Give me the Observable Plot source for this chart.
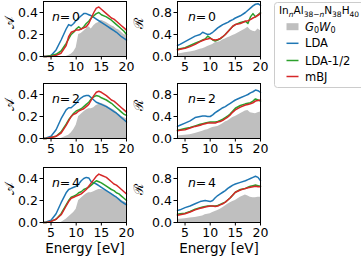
<!DOCTYPE html>
<html><head><meta charset="utf-8">
<script src="https://cdn.jsdelivr.net/npm/d3@7"></script>
<script src="https://cdn.jsdelivr.net/npm/@observablehq/plot@0.6"></script>
<style>
html,body{margin:0;padding:0;background:#fff;}
#chart{position:relative;width:361px;height:258px;overflow:hidden;font-family:"DejaVu Sans",sans-serif;}
#chart svg{position:absolute;overflow:visible;}
</style></head><body><div id="chart"></div>
<script>
// Energy grid [eV]
const energy = [3.5,4,5,6,7,8,8.5,9,9.5,10,10.5,11,11.5,12,12.5,13,13.5,14,14.5,15,16,17,17.5,18,18.5,19,19.5,20];
const xTicks = [5,10,15,20];
const yTicksA = [0,0.2,0.4];
const yTicksR = [0,0.4,0.8];
const seriesNames = ["G0W0","LDA","LDA-1/2","mBJ"];

// Absorbance A, n = 0, 2, 4
const A0_G0W0 = [0,0,0,0,0,0,0.01,0.02,0.04,0.08,0.2,0.21,0.23,0.25,0.27,0.25,0.28,0.3,0.31,0.33,0.31,0.28,0.27,0.25,0.24,0.22,0.2,0.19];
const A0_LDA  = [0,0,0.01,0.06,0.15,0.25,0.29,0.28,0.3,0.33,0.35,0.37,0.39,0.39,0.38,0.37,0.355,0.34,0.325,0.31,0.28,0.25,0.235,0.22,0.2,0.18,0.165,0.15];
const A0_LDAh = [0,0,0.01,0.02,0.05,0.12,0.16,0.2,0.22,0.25,0.27,0.25,0.27,0.3,0.32,0.35,0.37,0.39,0.4,0.38,0.36,0.33,0.31,0.29,0.27,0.25,0.23,0.2];
const A0_mBJ  = [0,0,0,0.01,0.03,0.1,0.18,0.22,0.23,0.24,0.24,0.25,0.26,0.27,0.3,0.35,0.4,0.44,0.45,0.43,0.39,0.35,0.34,0.32,0.3,0.28,0.26,0.24];

const A2_G0W0 = [0,0,0,0,0,0.02,0.03,0.05,0.08,0.12,0.2,0.22,0.24,0.26,0.27,0.27,0.28,0.3,0.31,0.32,0.3,0.27,0.26,0.24,0.22,0.2,0.19,0.18];
const A2_LDA  = [0,0.005,0.02,0.08,0.18,0.26,0.28,0.28,0.3,0.32,0.35,0.37,0.385,0.39,0.39,0.37,0.35,0.33,0.32,0.31,0.29,0.26,0.245,0.23,0.21,0.19,0.17,0.15];
const A2_LDAh = [0,0,0.01,0.02,0.06,0.13,0.17,0.2,0.23,0.25,0.26,0.27,0.29,0.31,0.33,0.36,0.38,0.39,0.385,0.37,0.35,0.32,0.3,0.28,0.26,0.24,0.22,0.21];
const A2_mBJ  = [0,0,0.01,0.02,0.05,0.12,0.16,0.2,0.22,0.23,0.25,0.26,0.27,0.29,0.31,0.35,0.39,0.42,0.43,0.42,0.39,0.35,0.34,0.32,0.3,0.28,0.26,0.24];

const A4_G0W0 = [0,0,0,0,0,0.03,0.05,0.07,0.09,0.12,0.2,0.22,0.24,0.26,0.27,0.27,0.28,0.29,0.3,0.3,0.29,0.26,0.25,0.23,0.22,0.2,0.19,0.18];
const A4_LDA  = [0,0.005,0.02,0.08,0.18,0.27,0.3,0.31,0.32,0.33,0.35,0.38,0.4,0.41,0.405,0.37,0.36,0.35,0.335,0.32,0.29,0.26,0.245,0.23,0.21,0.19,0.175,0.16];
const A4_LDAh = [0,0,0.01,0.03,0.08,0.16,0.2,0.23,0.24,0.25,0.27,0.28,0.3,0.31,0.32,0.34,0.36,0.38,0.37,0.36,0.33,0.3,0.29,0.27,0.26,0.24,0.22,0.2];
const A4_mBJ  = [0,0,0.01,0.03,0.07,0.15,0.19,0.22,0.23,0.24,0.25,0.26,0.28,0.3,0.33,0.36,0.39,0.42,0.44,0.43,0.41,0.37,0.35,0.34,0.32,0.3,0.28,0.26];

// Reflectance R, n = 0, 2, 4
const R0_G0W0 = [0.05,0.05,0.07,0.08,0.1,0.13,0.14,0.16,0.18,0.2,0.22,0.25,0.26,0.27,0.3,0.32,0.34,0.36,0.38,0.4,0.45,0.5,0.53,0.48,0.46,0.45,0.5,0.47];
const R0_LDA  = [0.2,0.22,0.27,0.32,0.37,0.4,0.44,0.42,0.4,0.41,0.44,0.48,0.52,0.55,0.58,0.6,0.62,0.65,0.67,0.7,0.74,0.8,0.84,0.88,0.92,0.95,0.96,0.93];
const R0_LDAh = [0.13,0.14,0.16,0.2,0.24,0.28,0.3,0.32,0.37,0.34,0.3,0.28,0.3,0.32,0.36,0.4,0.45,0.5,0.55,0.58,0.62,0.64,0.6,0.72,0.78,0.72,0.76,0.8];
const R0_mBJ  = [0.12,0.13,0.15,0.18,0.22,0.27,0.29,0.31,0.32,0.33,0.31,0.3,0.31,0.33,0.36,0.4,0.45,0.5,0.55,0.58,0.6,0.64,0.65,0.67,0.7,0.72,0.75,0.78];

const R2_G0W0 = [0.05,0.05,0.06,0.07,0.09,0.12,0.13,0.15,0.16,0.18,0.2,0.21,0.22,0.24,0.27,0.3,0.32,0.35,0.38,0.4,0.45,0.5,0.51,0.47,0.46,0.45,0.47,0.48];
const R2_LDA  = [0.22,0.24,0.28,0.32,0.38,0.4,0.41,0.41,0.4,0.4,0.43,0.47,0.5,0.53,0.56,0.58,0.61,0.64,0.67,0.7,0.74,0.78,0.8,0.83,0.85,0.88,0.87,0.84];
const R2_LDAh = [0.15,0.16,0.18,0.2,0.23,0.26,0.27,0.28,0.29,0.3,0.3,0.3,0.31,0.33,0.35,0.38,0.41,0.45,0.5,0.55,0.6,0.63,0.64,0.65,0.68,0.72,0.7,0.68];
const R2_mBJ  = [0.14,0.15,0.16,0.19,0.22,0.24,0.26,0.27,0.28,0.28,0.28,0.28,0.3,0.31,0.33,0.36,0.39,0.43,0.48,0.52,0.57,0.61,0.62,0.63,0.65,0.68,0.69,0.7];

const R4_G0W0 = [0.06,0.06,0.07,0.08,0.09,0.11,0.12,0.14,0.15,0.16,0.18,0.2,0.22,0.24,0.27,0.3,0.33,0.36,0.38,0.4,0.46,0.5,0.48,0.46,0.45,0.45,0.46,0.46];
const R4_LDA  = [0.22,0.23,0.27,0.3,0.34,0.38,0.39,0.4,0.39,0.38,0.4,0.45,0.49,0.52,0.55,0.58,0.62,0.65,0.68,0.7,0.73,0.76,0.78,0.8,0.82,0.84,0.82,0.76];
const R4_LDAh = [0.15,0.16,0.17,0.2,0.24,0.27,0.28,0.29,0.3,0.3,0.3,0.3,0.31,0.33,0.35,0.37,0.41,0.45,0.5,0.55,0.6,0.62,0.64,0.66,0.67,0.68,0.67,0.66];
const R4_mBJ  = [0.13,0.14,0.16,0.19,0.23,0.26,0.27,0.28,0.29,0.3,0.3,0.29,0.3,0.32,0.34,0.37,0.41,0.45,0.5,0.55,0.59,0.62,0.63,0.64,0.65,0.66,0.65,0.65];

const panels = [
  {col:0,row:0,n:0,s:[A0_G0W0,A0_LDA,A0_LDAh,A0_mBJ]},
  {col:0,row:1,n:2,s:[A2_G0W0,A2_LDA,A2_LDAh,A2_mBJ]},
  {col:0,row:2,n:4,s:[A4_G0W0,A4_LDA,A4_LDAh,A4_mBJ]},
  {col:1,row:0,n:0,s:[R0_G0W0,R0_LDA,R0_LDAh,R0_mBJ]},
  {col:1,row:1,n:2,s:[R2_G0W0,R2_LDA,R2_LDAh,R2_mBJ]},
  {col:1,row:2,n:4,s:[R4_G0W0,R4_LDA,R4_LDAh,R4_mBJ]},
];

const colors = {"G0W0":"#bfbfbf","LDA":"#1f77b4","LDA-1/2":"#2ca02c","mBJ":"#d62728"};
const chart = document.getElementById("chart");

const frameTops = [1,83,167];
const frameH = 55;

for (const p of panels) {
  const left = p.col === 0;
  const mt = 6, mb = p.row === 2 ? 40 : 24;
  const ml = left ? 43 : 47, mr = 3;
  const svgLeft = left ? 0 : 130;
  const width = left ? 129 : 133;
  const rows = energy.map((e,i)=>{
    const r = {e};
    seriesNames.forEach((k,j)=>r[k]=p.s[j][i]);
    return r;
  });
  const marks = [
    Plot.areaY(rows,{x:"e",y:"G0W0",fill:colors["G0W0"]}),
    ...["LDA","LDA-1/2","mBJ"].map(k=>Plot.line(rows,{x:"e",y:k,stroke:colors[k],strokeWidth:1.5})),
    Plot.frame({stroke:"#000",strokeWidth:1}),
    Plot.axisX({ticks:xTicks,tickSize:3.5,tickPadding:2,label:null,fontSize:12.5,tickFormat:d=>String(d)}),
    Plot.axisY({ticks:left?yTicksA:yTicksR,tickSize:3.5,tickPadding:2,label:null,fontSize:12.5,tickFormat:d=>d.toFixed(1)}),
    Plot.text(["n"],{text:d=>d,frameAnchor:"top-left",dx:left?8.5:10.5,dy:11,fontStyle:"italic",fontSize:12.5,textAnchor:"start"}),
    Plot.text(["="],{text:d=>d,frameAnchor:"top-left",dx:left?21.5:23.5,dy:11,fontSize:12.5,textAnchor:"middle"}),
    Plot.text([String(p.n)],{text:d=>d,frameAnchor:"top-left",dx:left?32.5:34.5,dy:11,fontSize:12.5,textAnchor:"middle"}),
    Plot.text([left?"𝒜":"ℛ"],{text:d=>d,frameAnchor:"left",dx:left?-34:-39,rotate:-90,fontSize:13,fontFamily:"DejaVu Serif, serif"}),
  ];
  if (p.row === 2) {
    marks.push(Plot.text(["Energy [eV]"],{text:d=>d,frameAnchor:"bottom",dy:30,fontSize:13.5}));
  }
  const plot = Plot.plot({
    width, height: mt+frameH+mb,
    marginTop:mt, marginBottom:mb, marginLeft:ml, marginRight:mr,
    x:{domain:[3.5,20]},
    y:{domain:left?[0,0.5]:[0,1.0]},
    style:{fontFamily:"DejaVu Sans, sans-serif",fontSize:"12px",color:"#000",background:"transparent"},
    marks
  });
  plot.style.left = svgLeft+"px";
  plot.style.top = (frameTops[p.row]-mt)+"px";
  chart.appendChild(plot);
}

// Legend
const ns = "http://www.w3.org/2000/svg";
const lg = document.createElementNS(ns,"svg");
lg.setAttribute("width","100");
lg.setAttribute("height","90");
lg.style.left="274px"; lg.style.top="2px";
lg.innerHTML = `
<rect x="0.5" y="0.5" width="98" height="85" rx="3" fill="#fff" fill-opacity="0.8" stroke="#cccccc"/>
<text x="5" y="12" font-size="10.5" font-family="DejaVu Sans">In<tspan font-size="7.5" font-style="italic" dy="2.5">n</tspan><tspan dy="-2.5">Al</tspan><tspan font-size="7.5" dy="2.5">38−</tspan><tspan font-size="7.5" font-style="italic">n</tspan><tspan dy="-2.5">N</tspan><tspan font-size="7.5" dy="2.5">38</tspan><tspan dy="-2.5">H</tspan><tspan font-size="7.5" dy="2.5">40</tspan></text>
`;
const entries = [
  {k:"G0W0", y:24.7},
  {k:"LDA", y:41.3},
  {k:"LDA-1/2", y:58.5},
  {k:"mBJ", y:74.5},
];
for (const en of entries) {
  if (en.k==="G0W0") {
    const r=document.createElementNS(ns,"rect");
    r.setAttribute("x","12.5");r.setAttribute("y",String(en.y-3.5));
    r.setAttribute("width","12");r.setAttribute("height","7");
    r.setAttribute("fill",colors[en.k]);lg.appendChild(r);
    const t=document.createElementNS(ns,"text");
    t.setAttribute("x","31");t.setAttribute("y",String(en.y+4));
    t.setAttribute("font-size","11.5");t.setAttribute("font-family","DejaVu Sans");
    t.innerHTML=`<tspan font-style="italic">G</tspan><tspan font-size="8" dy="2.5">0</tspan><tspan font-style="italic" dy="-2.5">W</tspan><tspan font-size="8" dy="2.5">0</tspan>`;
    lg.appendChild(t);
  } else {
    const l=document.createElementNS(ns,"line");
    l.setAttribute("x1","12.5");l.setAttribute("x2","24.5");
    l.setAttribute("y1",String(en.y));l.setAttribute("y2",String(en.y));
    l.setAttribute("stroke",colors[en.k]);l.setAttribute("stroke-width","1.5");
    lg.appendChild(l);
    const t=document.createElementNS(ns,"text");
    t.setAttribute("x","31");t.setAttribute("y",String(en.y+4));
    t.setAttribute("font-size","11.5");t.setAttribute("font-family","DejaVu Sans");
    t.textContent=en.k;
    lg.appendChild(t);
  }
}
chart.appendChild(lg);
</script></body></html>
